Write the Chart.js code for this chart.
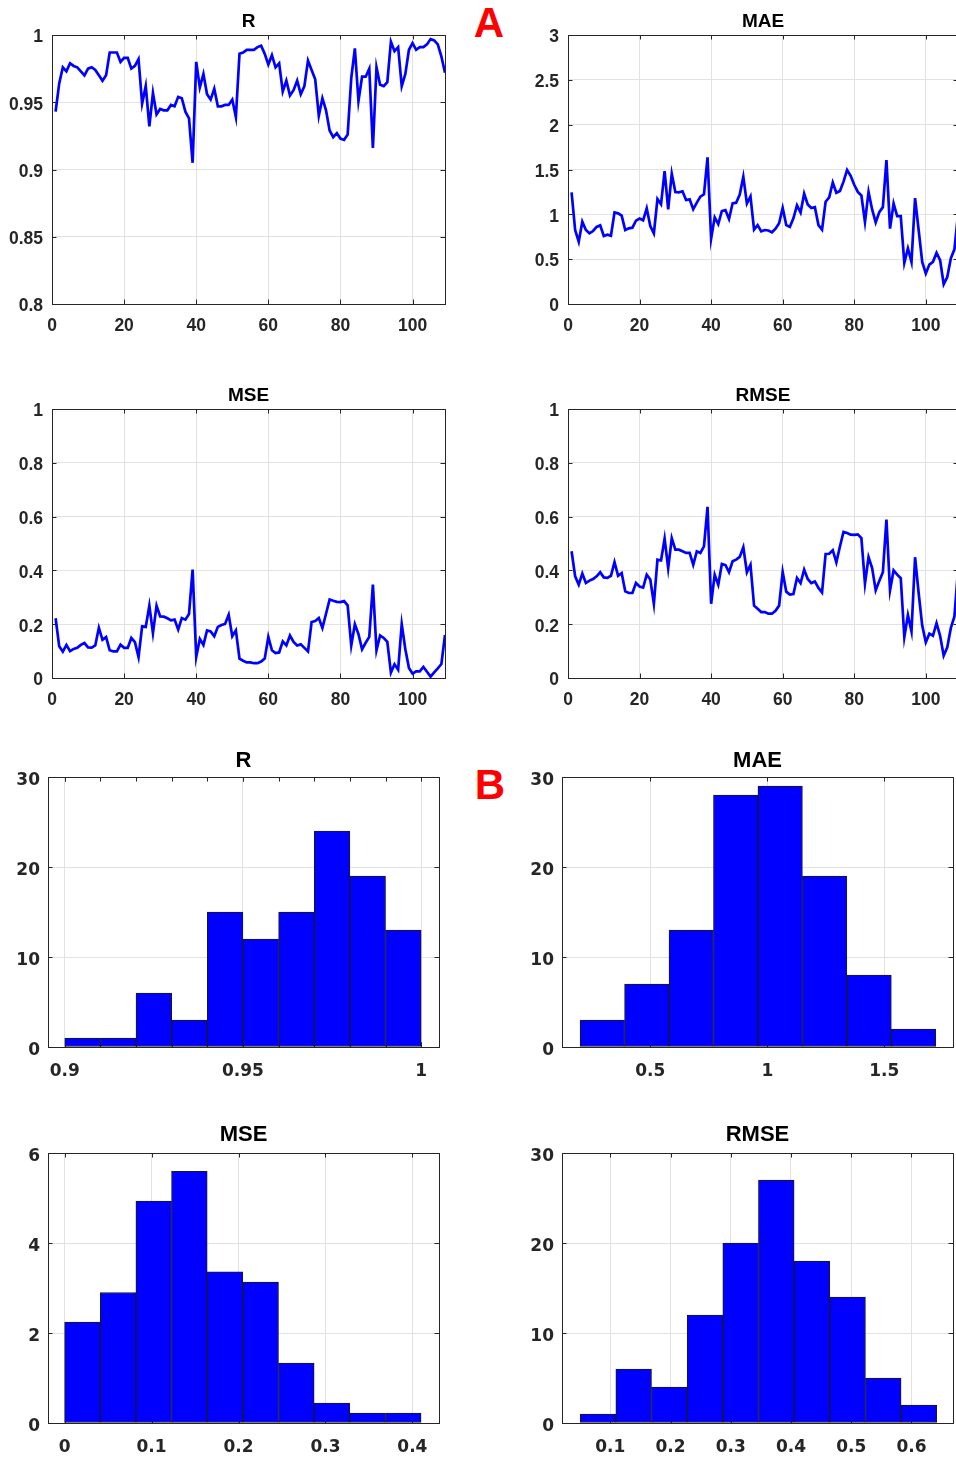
<!DOCTYPE html>
<html>
<head>
<meta charset="utf-8">
<script src="https://cdn.jsdelivr.net/npm/chart.js@4.4.1/dist/chart.umd.min.js"></script>
<style>
  html, body { margin: 0; padding: 0; background: #fff; overflow: hidden; width: 956px; height: 1457px; }
  canvas { position: absolute; }
  .tag { position: absolute; width: 60px; text-align: center; color: #ff0000;
         font: bold 42px 'Liberation Sans', Arial, sans-serif; line-height: 42px; }
</style>
</head>
<body>
<div class="tag" style="left:459px; top:2px">A</div>
<div class="tag" style="left:460px; top:764px">B</div>
<canvas id="lineR"></canvas>
<canvas id="lineMAE"></canvas>
<canvas id="lineMSE"></canvas>
<canvas id="lineRMSE"></canvas>
<canvas id="histR"></canvas>
<canvas id="histMAE"></canvas>
<canvas id="histMSE"></canvas>
<canvas id="histRMSE"></canvas>
<script>
// ---- per-run metrics (run 1..109) ----
const rValues = [0.943, 0.964, 0.976, 0.973, 0.979, 0.977, 0.976, 0.973, 0.970, 0.975,
  0.976, 0.974, 0.970, 0.966, 0.970, 0.987, 0.987, 0.987, 0.980, 0.983,
  0.983, 0.975, 0.977, 0.982, 0.949, 0.962, 0.932, 0.957, 0.941, 0.945,
  0.944, 0.944, 0.948, 0.947, 0.954, 0.953, 0.943, 0.938, 0.905, 0.980,
  0.961, 0.971, 0.956, 0.952, 0.960, 0.947, 0.947, 0.948, 0.948, 0.952,
  0.939, 0.986, 0.987, 0.989, 0.989, 0.989, 0.991, 0.992, 0.986, 0.978,
  0.985, 0.976, 0.979, 0.958, 0.966, 0.955, 0.959, 0.966, 0.956, 0.962,
  0.981, 0.974, 0.967, 0.940, 0.953, 0.944, 0.929, 0.924, 0.927, 0.923,
  0.922, 0.926, 0.968, 0.990, 0.951, 0.969, 0.969, 0.975, 0.916, 0.976,
  0.963, 0.962, 0.965, 0.995, 0.988, 0.991, 0.962, 0.971, 0.989, 0.994,
  0.989, 0.991, 0.991, 0.993, 0.997, 0.996, 0.993, 0.984, 0.972];

const maeValues = [1.245, 0.825, 0.695, 0.918, 0.825, 0.788, 0.814, 0.859, 0.877, 0.758,
  0.773, 0.762, 1.022, 1.011, 0.985, 0.825, 0.844, 0.851, 0.929, 0.952,
  0.933, 1.067, 0.870, 0.788, 1.171, 1.112, 1.483, 1.056, 1.453, 1.249,
  1.245, 1.257, 1.160, 1.167, 1.056, 1.130, 1.197, 1.223, 1.636, 0.729,
  0.967, 0.892, 1.037, 1.048, 0.948, 1.123, 1.130, 1.22, 1.42, 1.12,
  1.20, 0.83, 0.88, 0.81, 0.825, 0.82, 0.80, 0.84, 0.90, 1.07,
  0.88, 0.86, 0.955, 1.10, 1.02, 1.23, 1.11, 1.07, 1.08, 0.88,
  0.83, 1.14, 1.19, 1.355, 1.24, 1.26, 1.365, 1.495, 1.43, 1.33,
  1.25, 1.21, 0.915, 1.25, 1.055, 0.91, 1.025, 1.08, 1.605, 0.84,
  1.12, 0.98, 0.98, 0.46, 0.62, 0.47, 1.18, 0.825, 0.47, 0.34,
  0.44, 0.47, 0.57, 0.49, 0.22, 0.30, 0.51, 0.61, 1.00];

const mseValues = [0.222, 0.118, 0.098, 0.123, 0.100, 0.108, 0.112, 0.123, 0.130, 0.114,
  0.113, 0.121, 0.187, 0.142, 0.152, 0.103, 0.099, 0.099, 0.124, 0.112,
  0.112, 0.149, 0.133, 0.078, 0.192, 0.190, 0.269, 0.167, 0.269, 0.229,
  0.228, 0.222, 0.214, 0.217, 0.180, 0.223, 0.217, 0.238, 0.403, 0.078,
  0.145, 0.123, 0.177, 0.173, 0.155, 0.190, 0.197, 0.201, 0.235, 0.155,
  0.177, 0.072, 0.064, 0.058, 0.058, 0.055, 0.055, 0.061, 0.072, 0.153,
  0.103, 0.093, 0.095, 0.136, 0.121, 0.158, 0.134, 0.121, 0.125, 0.112,
  0.099, 0.208, 0.212, 0.223, 0.186, 0.239, 0.292, 0.287, 0.283, 0.282,
  0.286, 0.270, 0.121, 0.200, 0.163, 0.107, 0.131, 0.153, 0.347, 0.103,
  0.158, 0.149, 0.134, 0.020, 0.051, 0.031, 0.200, 0.107, 0.037, 0.016,
  0.025, 0.025, 0.041, 0.023, 0.005, 0.021, 0.036, 0.052, 0.160];

const rmseValues = [0.471, 0.378, 0.347, 0.388, 0.353, 0.362, 0.368, 0.378, 0.393, 0.374,
  0.372, 0.380, 0.431, 0.380, 0.390, 0.322, 0.316, 0.316, 0.353, 0.340,
  0.336, 0.384, 0.366, 0.276, 0.440, 0.437, 0.518, 0.408, 0.520, 0.477,
  0.477, 0.471, 0.465, 0.465, 0.421, 0.471, 0.465, 0.489, 0.636, 0.276,
  0.384, 0.347, 0.424, 0.420, 0.393, 0.434, 0.440, 0.450, 0.486, 0.393,
  0.421, 0.269, 0.257, 0.245, 0.245, 0.239, 0.239, 0.250, 0.269, 0.394,
  0.321, 0.310, 0.312, 0.372, 0.353, 0.403, 0.368, 0.353, 0.359, 0.335,
  0.318, 0.461, 0.462, 0.475, 0.430, 0.489, 0.543, 0.539, 0.533, 0.532,
  0.534, 0.520, 0.351, 0.450, 0.409, 0.326, 0.361, 0.393, 0.589, 0.326,
  0.400, 0.384, 0.371, 0.152, 0.234, 0.173, 0.449, 0.316, 0.195, 0.133,
  0.165, 0.157, 0.204, 0.157, 0.083, 0.114, 0.186, 0.229, 0.400];

const runs = rValues.map((v, i) => i + 1);

// ---- histograms: bin edges and heights ----
const rEdges = [0.90, 0.91, 0.92, 0.93, 0.94, 0.95, 0.96, 0.97, 0.98, 0.99, 1.00];
const rCounts = [1, 1, 6, 3, 15, 12, 15, 24, 19, 13];
const maeEdges = [0.20, 0.39, 0.58, 0.77, 0.96, 1.15, 1.34, 1.53, 1.72];
const maeCounts = [3, 7, 13, 28, 29, 19, 8, 2];
const mseEdges = [0, 0.041, 0.082, 0.123, 0.164, 0.205, 0.246, 0.287, 0.328, 0.369, 0.41];
const mseDensity = [2.24, 2.90, 4.93, 5.59, 3.36, 3.13, 1.33, 0.44, 0.22, 0.22];
const rmseEdges = [0.05, 0.1092, 0.1684, 0.2276, 0.2868, 0.346, 0.4052, 0.4644, 0.5236, 0.5828, 0.642];
const rmseCounts = [1, 6, 4, 12, 20, 27, 18, 14, 5, 2];

// ---- tick labels ----
const runTicks = [0, 20, 40, 60, 80, 100];
const rTicks = [0.8, 0.85, 0.9, 0.95, 1];
const maeTicks = [0, 0.5, 1, 1.5, 2, 2.5, 3];
const unitTicks = [0, 0.2, 0.4, 0.6, 0.8, 1];
const countTicks = [0, 10, 20, 30];
const rHistTicks = [0.9, 0.95, 1];
const maeHistTicks = [0.5, 1, 1.5];
const mseHistTicks = [0, 0.1, 0.2, 0.3, 0.4];
const densTicks = [0, 2, 4, 6];
const rmseHistTicks = [0.1, 0.2, 0.3, 0.4, 0.5, 0.6];

const ink = '#262626';
const gridColor = '#e2e2e2';
const blue = '#0000ff';

// axes box with inward ticks, like the MATLAB figure
const frame = {
  id: 'frame',
  beforeDatasetsDraw(chart, args, opts) {
    const { ctx, chartArea: a } = chart;
    const x = chart.scales.x, y = chart.scales.y;
    const len = 4.5;
    ctx.save();
    ctx.strokeStyle = ink;
    ctx.lineWidth = 1;
    ctx.beginPath();
    const xs = x.ticks.map(t => x.getPixelForValue(t.value));
    if (opts.minor) {
      for (let v = opts.minor.from; v <= opts.minor.to + 1e-9; v += opts.minor.step) {
        xs.push(x.getPixelForValue(v));
      }
    }
    xs.forEach(px => {
      px = Math.round(px) + 0.5;
      ctx.moveTo(px, a.bottom); ctx.lineTo(px, a.bottom - len);
      ctx.moveTo(px, a.top); ctx.lineTo(px, a.top + len);
    });
    y.ticks.forEach(t => {
      const py = Math.round(y.getPixelForValue(t.value)) + 0.5;
      ctx.moveTo(a.left, py); ctx.lineTo(a.left + len, py);
      ctx.moveTo(a.right, py); ctx.lineTo(a.right - len, py);
    });
    ctx.stroke();
    ctx.strokeRect(Math.round(a.left) + 0.5, Math.round(a.top) + 0.5,
                   Math.round(a.right - a.left), Math.round(a.bottom - a.top));
    ctx.restore();
  }
};

Chart.defaults.font.family = "'Liberation Sans', Arial, sans-serif";
Chart.defaults.color = ink;

// box = plot area in page pixels
function makeChart(id, box, setup) {
  const yW = 50, xH = 34, padR = 10, titleH = 30;
  const cv = document.getElementById(id);
  cv.width = yW + (box.R - box.L) + padR;
  cv.height = titleH + (box.B - box.T) + xH;
  cv.style.left = (box.L - yW) + 'px';
  cv.style.top = (box.T - titleH) + 'px';

  const tickFont = setup.hist
    ? { family: "'DejaVu Sans', sans-serif", size: 17, weight: 'bold' }
    : { size: 17.5, weight: 'bold' };
  const titleSize = setup.hist ? 22 : 19;

  const axis = (ticks, min, max, extra) => Object.assign({
    type: 'linear', min: min, max: max, offset: false,
    grid: { color: gridColor, drawTicks: false, offset: false },
    border: { display: false },
    ticks: { font: tickFont, color: ink, callback: v => String(v) },
    afterBuildTicks: s => { s.ticks = ticks.map(v => ({ value: v })); }
  }, extra);

  const xAxis = axis(setup.xTicks, setup.xMin, setup.xMax, { afterFit: s => { s.height = xH; } });
  xAxis.ticks.padding = setup.hist ? 14 : 12;
  const yAxis = axis(setup.yTicks, setup.yMin, setup.yMax, { afterFit: s => { s.width = yW; } });
  yAxis.ticks.padding = setup.hist ? 8 : 9;
  yAxis.ticks.labelOffset = setup.hist ? 3.5 : 2.5;

  return new Chart(cv, {
    type: setup.type,
    data: setup.data,
    plugins: [frame],
    options: {
      responsive: false,
      animation: false,
      layout: { padding: { left: 0, top: 0, bottom: 0, right: padR } },
      plugins: {
        legend: { display: false },
        tooltip: { enabled: false },
        title: {
          display: true, text: setup.title, color: '#000', fullSize: false,
          font: { size: titleSize, weight: 'bold', lineHeight: 1.2 },
          padding: { top: titleH - setup.titleGap - titleSize * 1.2, bottom: setup.titleGap }
        },
        frame: { minor: setup.minor }
      },
      scales: { x: xAxis, y: yAxis }
    }
  });
}

function lineData(values) {
  return {
    labels: runs,
    datasets: [{ data: values, borderColor: blue, borderWidth: 2.7, pointRadius: 0, tension: 0, fill: false }]
  };
}

function histData(edges, heights) {
  return {
    datasets: [{
      data: heights.map((h, i) => ({ x: (edges[i] + edges[i + 1]) / 2, y: h })),
      backgroundColor: blue, borderColor: '#1a1a1a', borderWidth: 1, borderSkipped: false,
      barPercentage: 1, categoryPercentage: 1
    }]
  };
}

// A: metric per run
makeChart('lineR', { L: 52, T: 35, R: 445, B: 304 }, {
  type: 'line', title: 'R', titleGap: 2.2, data: lineData(rValues),
  xTicks: runTicks, xMin: 0, xMax: 109, yTicks: rTicks, yMin: 0.8, yMax: 1 });
makeChart('lineMAE', { L: 568, T: 35, R: 958, B: 304 }, {
  type: 'line', title: 'MAE', titleGap: 2.2, data: lineData(maeValues),
  xTicks: runTicks, xMin: 0, xMax: 109, yTicks: maeTicks, yMin: 0, yMax: 3 });
makeChart('lineMSE', { L: 52, T: 409, R: 445, B: 678 }, {
  type: 'line', title: 'MSE', titleGap: 2.2, data: lineData(mseValues),
  xTicks: runTicks, xMin: 0, xMax: 109, yTicks: unitTicks, yMin: 0, yMax: 1 });
makeChart('lineRMSE', { L: 568, T: 409, R: 958, B: 678 }, {
  type: 'line', title: 'RMSE', titleGap: 2.2, data: lineData(rmseValues),
  xTicks: runTicks, xMin: 0, xMax: 109, yTicks: unitTicks, yMin: 0, yMax: 1 });

// B: distributions
makeChart('histR', { L: 48, T: 777, R: 439, B: 1047 }, {
  type: 'bar', hist: true, title: 'R', titleGap: 3.0, data: histData(rEdges, rCounts),
  xTicks: rHistTicks, xMin: 0.8953, xMax: 1.005, yTicks: countTicks, yMin: 0, yMax: 30,
  minor: { from: 0.9, to: 1.0, step: 0.01 } });
makeChart('histMAE', { L: 562, T: 777, R: 953, B: 1047 }, {
  type: 'bar', hist: true, title: 'MAE', titleGap: 3.0, data: histData(maeEdges, maeCounts),
  xTicks: maeHistTicks, xMin: 0.1226, xMax: 1.7936, yTicks: countTicks, yMin: 0, yMax: 30 });
makeChart('histMSE', { L: 48, T: 1153, R: 439, B: 1423 }, {
  type: 'bar', hist: true, title: 'MSE', titleGap: 4.5, data: histData(mseEdges, mseDensity),
  xTicks: mseHistTicks, xMin: -0.0191, xMax: 0.4306, yTicks: densTicks, yMin: 0, yMax: 6 });
makeChart('histRMSE', { L: 562, T: 1153, R: 953, B: 1423 }, {
  type: 'bar', hist: true, title: 'RMSE', titleGap: 4.5, data: histData(rmseEdges, rmseCounts),
  xTicks: rmseHistTicks, xMin: 0.0198, xMax: 0.669, yTicks: countTicks, yMin: 0, yMax: 30 });
</script>
</body>
</html>
